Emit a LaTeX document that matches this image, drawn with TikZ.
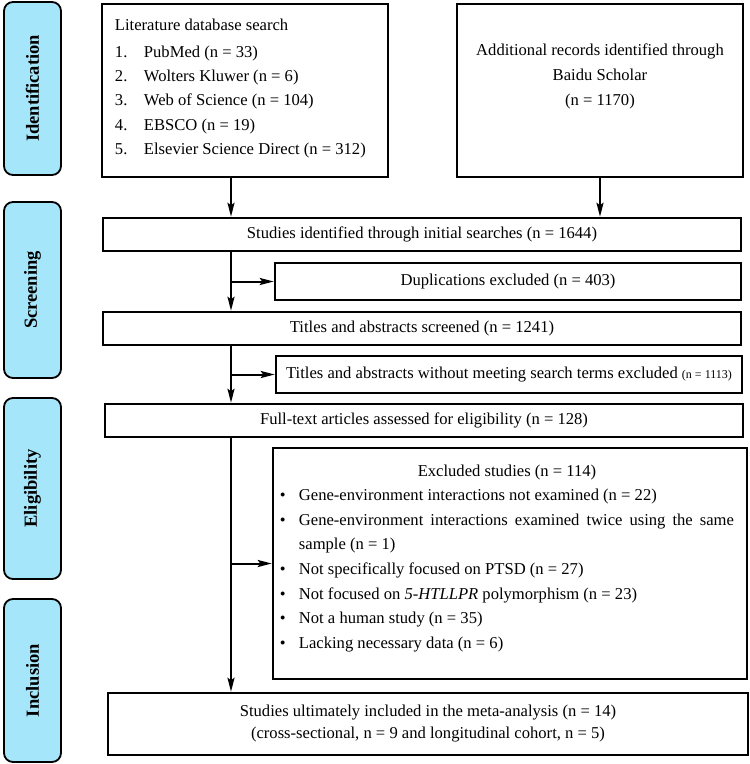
\documentclass[tikz,border=0pt]{standalone}
\usepackage{fontspec}
\setmainfont{Liberation Serif}
\usetikzlibrary{arrows.meta,positioning}

\definecolor{stageblue}{RGB}{166,230,250}

\tikzset{
  stage/.style={draw, line width=1.8pt, rounded corners=9pt, fill=stageblue,
    rotate=90, minimum height=57pt, inner sep=0pt,
    font=\fontsize{18.5}{22}\selectfont\bfseries},
  box/.style={draw, line width=2.5pt, inner sep=0pt,
    font=\fontsize{16.6}{24}\selectfont},
  arr/.style={line width=2pt, -{Stealth[length=14pt,width=7pt,inset=2.5pt]}},
}

\begin{document}
\begin{tikzpicture}[x=1pt,y=-1pt]
    \useasboundingbox (0,0) rectangle (750,764);

    % stages on the left
    \node[stage, minimum width=173pt] (ident)  at (32.5,88.5)  {Identification};
    \node[stage, minimum width=176pt] (screen) at (32.5,290)   {Screening};
    \node[stage, minimum width=181pt] (elig)   at (32.5,488.5) {Eligibility};
    \node[stage, minimum width=163pt] (incl)   at (32.5,680.5) {Inclusion};

    % identification
    \node[box, minimum width=286pt, minimum height=173pt] (lit) at (245,90.5) {};
    \node[anchor=north west, inner sep=0pt, font=\fontsize{16.6}{24.4}\selectfont]
        (lit-list) at ([shift={(14,10)}]lit.north west) {%
        \begin{tabular}{@{}p{29pt}@{}l@{}}
            \multicolumn{2}{@{}l@{}}{Literature database search}\\[2.6pt]
            1. & PubMed (n = 33)\\
            2. & Wolters Kluwer (n = 6)\\
            3. & Web of Science (n = 104)\\
            4. & EBSCO (n = 19)\\
            5. & Elsevier Science Direct (n = 312)
        \end{tabular}};

    \node[box, minimum width=286pt, minimum height=173pt] (add) at (600,90.5) {};
    \node[align=center, font=\fontsize{16.6}{25}\selectfont] (add-txt)
        at ([yshift=14pt]add.center)
        {Additional records identified through\\Baidu Scholar\\(n = 1170)};

    % screening
    \node[box, minimum width=638pt, minimum height=33pt] (found) at (422,234.5)
        {Studies identified through initial searches (n = 1644)};
    \node[box, minimum width=466pt, minimum height=37pt] (dup) at (508,281.5)
        {Duplications excluded (n = 403)};
    \node[box, minimum width=638pt, minimum height=33pt] (titles) at (422,328.5)
        {Titles and abstracts screened (n = 1241)};
    \node[box, minimum width=466pt, minimum height=37pt] (terms) at (509,374.5)
        {Titles and abstracts without meeting search terms excluded {\fontsize{12}{14}\selectfont(n = 1113)}};

    % eligibility
    \node[box, minimum width=638pt, minimum height=33pt] (full) at (424,420.5)
        {Full-text articles assessed for eligibility (n = 128)};
    \node[box, minimum width=474pt, minimum height=231pt] (excl) at (510,563.5) {};
    \node[anchor=north west, inner sep=0pt, font=\fontsize{16.6}{24.6}\selectfont]
        (excl-list) at ([shift={(8,12)}]excl.north west) {%
        \begin{tabular}{@{}p{19pt}@{}p{435pt}@{}}
            \multicolumn{2}{@{}c@{}}{Excluded studies (n = 114)}\\
            \textbullet & Gene-environment interactions not examined (n = 22)\\
            \textbullet & Gene-environment interactions examined twice using the same \mbox{sample} (n = 1)\\
            \textbullet & Not specifically focused on PTSD (n = 27)\\
            \textbullet & Not focused on \textit{5-HTLLPR} polymorphism (n = 23)\\
            \textbullet & Not a human study (n = 35)\\
            \textbullet & Lacking necessary data (n = 6)
        \end{tabular}};

    % inclusion
    \node[box, minimum width=640pt, minimum height=62pt, align=center,
        font=\fontsize{16.6}{22}\selectfont] (final) at (428,724)
        {Studies ultimately included in the meta-analysis (n = 14)\\(cross-sectional, n = 9 and longitudinal cohort, n = 5)};

    % connectors
    \coordinate (spine) at (231,0);
    \draw[arr] (lit.south -| spine) -- (found.north -| spine);
    \draw[arr] (add.south) -- (add.south |- found.north);
    \draw[arr] (found.south -| spine) -- (titles.north -| spine);
    \draw[arr] (spine |- dup.west) -- (dup.west);
    \draw[arr] (titles.south -| spine) -- (full.north -| spine);
    \draw[arr] (spine |- terms.west) -- (terms.west);
    \draw[arr] (full.south -| spine) -- (final.north -| spine);
    \draw[arr] (spine |- excl.west) -- (excl.west);

\end{tikzpicture}
\end{document}
